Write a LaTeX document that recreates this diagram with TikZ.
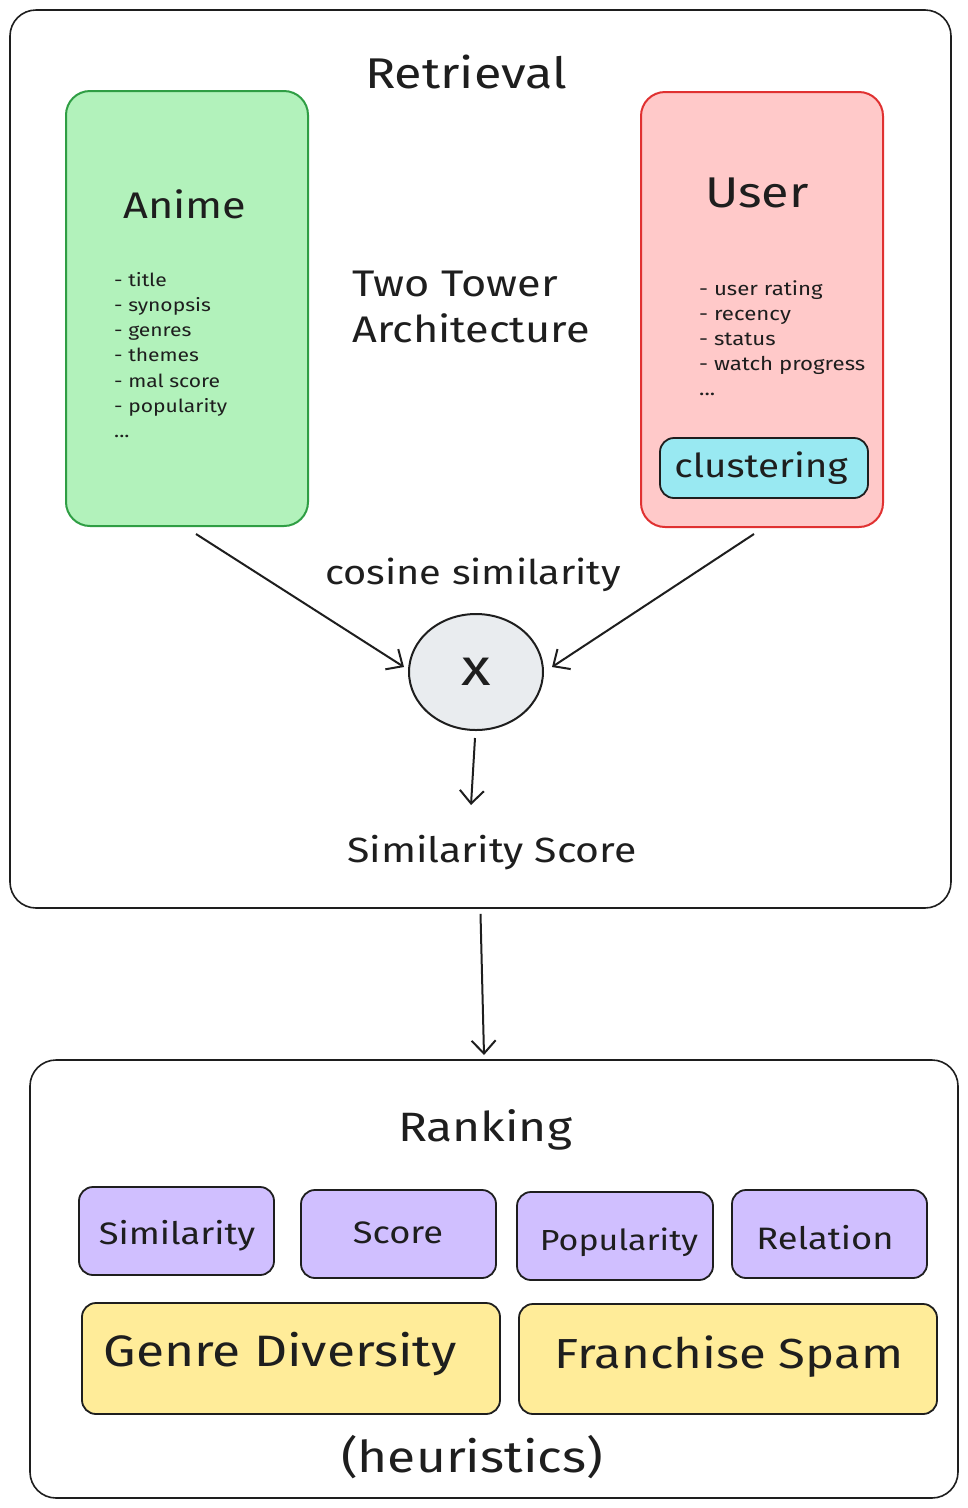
\documentclass[tikz,border=0pt]{standalone}
\usepackage{fontspec}
\setmainfont{Fira Sans}[FakeStretch=1.17]
\usetikzlibrary{arrows.meta,shapes.geometric}
\definecolor{ink}{HTML}{1E1E1E}
\definecolor{gfill}{HTML}{B2F2BB}
\definecolor{gline}{HTML}{2F9E44}
\definecolor{rfill}{HTML}{FFC9C9}
\definecolor{rline}{HTML}{E03131}
\definecolor{cfill}{HTML}{99E9F2}
\definecolor{xfill}{HTML}{E9ECEF}
\definecolor{pfill}{HTML}{D0BFFF}
\definecolor{yfill}{HTML}{FFEC99}
\tikzset{
  bigbox/.style={draw=ink, line width=1.6pt, rounded corners=26pt, inner sep=0pt},
  tower/.style={line width=2pt, rounded corners=24pt, inner sep=0pt, minimum width=242pt, minimum height=435pt},
  chip/.style={draw=ink, fill=#1, line width=1.8pt, rounded corners=14pt, inner sep=0pt},
  txt/.style={text=ink, inner sep=0pt},
  arr/.style={draw=ink, line width=2pt, -{Straight Barb[length=13pt,width=24pt,line width=2pt]}},
}
\begin{document}
\begin{tikzpicture}[x=1pt,y=-1pt]
\useasboundingbox (0,0) rectangle (968,1508);
% Retrieval container
\node[bigbox, minimum width=941pt, minimum height=898pt] (retrieval) at (480.5,459) {};
\node[txt, font=\fontsize{43}{50}\selectfont] (rettitle) at (466,72) {Retrieval};
% Anime tower
\node[tower, draw=gline, fill=gfill] (anime) at (187,308.5) {};
\node[txt, font=\fontsize{37}{44}\selectfont] (animetitle) at (185,204) {Anime};
\node[txt, anchor=north west, align=left, font=\fontsize{18}{25.2}\selectfont] (animelist) at (114,272)
  {- title\\- synopsis\\- genres\\- themes\\- mal score\\- popularity\\...};
% User tower
\node[tower, draw=rline, fill=rfill] (user) at (762,309.5) {};
\node[txt, font=\fontsize{43}{50}\selectfont] (usertitle) at (757,193) {User};
\node[txt, anchor=north west, align=left, font=\fontsize{19}{25.2}\selectfont] (userlist) at (699,280)
  {- user rating\\- recency\\- status\\- watch progress\\...};
\node[chip=cfill, minimum width=208pt, minimum height=60pt] (cluster) at (764,468) {};
\node[txt, font=\fontsize{33}{40}\selectfont] (clustertxt) at (761,468) {clustering};
% middle labels
\node[txt, anchor=west, align=left, font=\fontsize{37}{46}\selectfont] (twotower) at (352,307)
  {Two Tower\\Architecture};
\node[txt, font=\fontsize{34}{42}\selectfont] (cosine) at (473,575) {cosine similarity};
% product circle
\node[draw=ink, fill=xfill, line width=2pt, ellipse, minimum width=134pt, minimum height=116pt, inner sep=0pt, font=\fontsize{52}{52}\selectfont, text=ink] (prod) at (476,672) {x};
\node[txt, font=\fontsize{35}{42}\selectfont] (simscore) at (492,853) {Similarity Score};
\coordinate (scend) at (471,805);
\draw[arr] ([xshift=9pt,yshift=-7pt]anime.south) -- ([xshift=-4pt,yshift=5pt]prod.west);
\draw[arr] ([xshift=-8pt,yshift=-6pt]user.south) -- ([xshift=8pt,yshift=5pt]prod.east);
\draw[arr] ([xshift=-1pt,yshift=-7pt]prod.south) -- (scend);
% Ranking container
\node[bigbox, minimum width=928pt, minimum height=438pt] (ranking) at (494,1279) {};
\coordinate (rankin) at (484,1055);
\draw[arr] ([yshift=-5pt]retrieval.south) -- (rankin);
\node[txt, font=\fontsize{41}{48}\selectfont] (ranktitle) at (485,1130) {Ranking};
% factor chips
\node[chip=pfill, minimum width=195pt, minimum height=88pt] (fsim) at (176.5,1231) {};
\node[txt, font=\fontsize{31}{36}\selectfont] at (177,1236) {Similarity};
\node[chip=pfill, minimum width=195pt, minimum height=88pt] (fscore) at (398.5,1234) {};
\node[txt, font=\fontsize{31}{36}\selectfont] at (398,1233) {Score};
\node[chip=pfill, minimum width=196pt, minimum height=88pt] (fpop) at (615,1236) {};
\node[txt, font=\fontsize{29}{36}\selectfont] at (619,1242) {Popularity};
\node[chip=pfill, minimum width=195pt, minimum height=88pt] (frel) at (829.5,1234) {};
\node[txt, font=\fontsize{31}{36}\selectfont] at (825,1238) {Relation};
% heuristics
\node[chip=yfill, minimum width=418pt, minimum height=111pt] (hgenre) at (291,1358.5) {};
\node[txt, font=\fontsize{44}{50}\selectfont] at (280,1354) {Genre Diversity};
\node[chip=yfill, minimum width=418pt, minimum height=110pt] (hfran) at (728,1359) {};
\node[txt, font=\fontsize{42}{50}\selectfont] at (729,1357) {Franchise Spam};
\node[txt, font=\fontsize{44}{50}\selectfont] (heur) at (472,1457) {(heuristics)};
\end{tikzpicture}
\end{document}
